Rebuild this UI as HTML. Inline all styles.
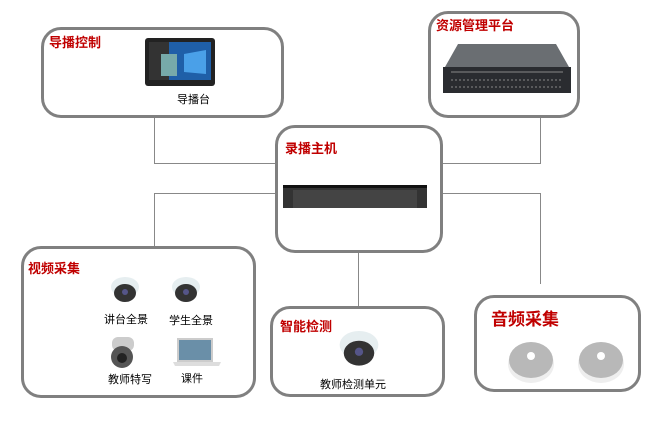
<!DOCTYPE html>
<html><head><meta charset="utf-8"><style>
body{margin:0;width:653px;height:426px;background:#fff;position:relative;overflow:hidden;font-family:"Liberation Sans","Noto Sans CJK SC",sans-serif}
.b{position:absolute;border:3px solid #808080;border-radius:20px;box-sizing:border-box;background:#fff}
.t{position:absolute;color:#c00000;font-size:13px;font-weight:bold;white-space:nowrap}
.l{position:absolute;font-size:11px;color:#000;white-space:nowrap}
.h{position:absolute;height:1px;background:#888}
.v{position:absolute;width:1px;background:#888}
.cam{position:absolute;width:28px;height:26px}
</style></head><body>
<div class="v" style="left:154px;top:118px;height:45px"></div>
<div class="h" style="left:154px;top:163px;width:122px"></div>
<div class="h" style="left:154px;top:193px;width:122px"></div>
<div class="v" style="left:154px;top:193px;height:54px"></div>
<div class="v" style="left:540px;top:118px;height:45px"></div>
<div class="h" style="left:443px;top:163px;width:98px"></div>
<div class="h" style="left:443px;top:193px;width:98px"></div>
<div class="v" style="left:540px;top:193px;height:91px"></div>
<div class="v" style="left:358px;top:253px;height:54px"></div>

<div class="b" style="left:41px;top:27px;width:243px;height:91px"></div>
<div class="t" style="left:49px;top:32px">导播控制</div>
<svg style="position:absolute;left:144px;top:34px" width="72" height="53"><rect x="1" y="4" width="70" height="48" rx="3" fill="#222"/><rect x="5" y="8" width="62" height="38" fill="#1f5fa8"/><rect x="5" y="8" width="20" height="38" fill="#333"/><rect x="17" y="20" width="16" height="22" fill="#7aa"/><polygon points="40,20 62,16 62,40 40,38" fill="#4aa0e8"/></svg>
<div class="l" style="left:177px;top:91px">导播台</div>

<div class="b" style="left:428px;top:11px;width:152px;height:107px"></div>
<div class="t" style="left:436px;top:15px">资源管理平台</div>
<svg style="position:absolute;left:443px;top:42px" width="128" height="53"><polygon points="15,2 113,2 126,25 2,25" fill="#6a6e72"/><rect x="0" y="25" width="128" height="26" fill="#2a2c30"/><g stroke="#888" stroke-width="1"><line x1="8" y1="30" x2="120" y2="30"/><line x1="8" y1="38" x2="120" y2="38" stroke-dasharray="2 2"/><line x1="8" y1="45" x2="120" y2="45" stroke-dasharray="2 2"/></g></svg>

<div class="b" style="left:275px;top:125px;width:168px;height:128px"></div>
<div class="t" style="left:285px;top:138px">录播主机</div>
<svg style="position:absolute;left:283px;top:185px" width="144" height="23"><rect width="144" height="23" fill="#333"/><rect x="10" y="5" width="124" height="18" fill="#444"/><rect width="144" height="3" fill="#111"/></svg>

<div class="b" style="left:21px;top:246px;width:235px;height:152px"></div>
<div class="t" style="left:28px;top:258px">视频采集</div>
<svg class="cam" style="left:111px;top:277px" viewBox="0 0 28 26"><ellipse cx="14" cy="10" rx="14" ry="10" fill="#e6eef0"/><ellipse cx="14" cy="16" rx="11" ry="9" fill="#333"/><circle cx="14" cy="15" r="3" fill="#558"/></svg>
<svg class="cam" style="left:172px;top:277px" viewBox="0 0 28 26"><ellipse cx="14" cy="10" rx="14" ry="10" fill="#e6eef0"/><ellipse cx="14" cy="16" rx="11" ry="9" fill="#333"/><circle cx="14" cy="15" r="3" fill="#558"/></svg>
<div class="l" style="left:104px;top:311px">讲台全景</div>
<div class="l" style="left:169px;top:312px">学生全景</div>
<svg style="position:absolute;left:110px;top:337px" width="26" height="32"><rect x="2" y="0" width="22" height="14" rx="6" fill="#ccc"/><circle cx="12" cy="20" r="11" fill="#555"/><circle cx="12" cy="21" r="5" fill="#222"/></svg>
<svg style="position:absolute;left:173px;top:337px" width="48" height="30"><rect x="4" y="1" width="36" height="24" fill="#ccc"/><rect x="6" y="3" width="32" height="20" fill="#6a8fa8"/><polygon points="0,25 48,25 46,29 2,29" fill="#ddd"/></svg>
<div class="l" style="left:108px;top:371px">教师特写</div>
<div class="l" style="left:181px;top:370px">课件</div>

<div class="b" style="left:270px;top:306px;width:175px;height:91px"></div>
<div class="t" style="left:280px;top:316px">智能检测</div>
<svg style="position:absolute;left:338px;top:331px" width="42" height="36" viewBox="0 0 28 26"><ellipse cx="14" cy="10" rx="14" ry="10" fill="#e6eef0"/><ellipse cx="14" cy="16" rx="11" ry="9" fill="#333"/><circle cx="14" cy="15" r="3" fill="#558"/></svg>
<div class="l" style="left:320px;top:376px">教师检测单元</div>

<div class="b" style="left:474px;top:295px;width:167px;height:97px"></div>
<div class="t" style="left:491px;top:305px;font-size:17px">音频采集</div>
<svg style="position:absolute;left:507px;top:340px" width="48" height="44"><ellipse cx="24" cy="24" rx="23" ry="19" fill="#eee"/><ellipse cx="24" cy="20" rx="22" ry="18" fill="#b8b8b8"/><circle cx="24" cy="16" r="4" fill="#fff"/></svg>
<svg style="position:absolute;left:577px;top:340px" width="48" height="44"><ellipse cx="24" cy="24" rx="23" ry="19" fill="#eee"/><ellipse cx="24" cy="20" rx="22" ry="18" fill="#b8b8b8"/><circle cx="24" cy="16" r="4" fill="#fff"/></svg>
</body></html>
